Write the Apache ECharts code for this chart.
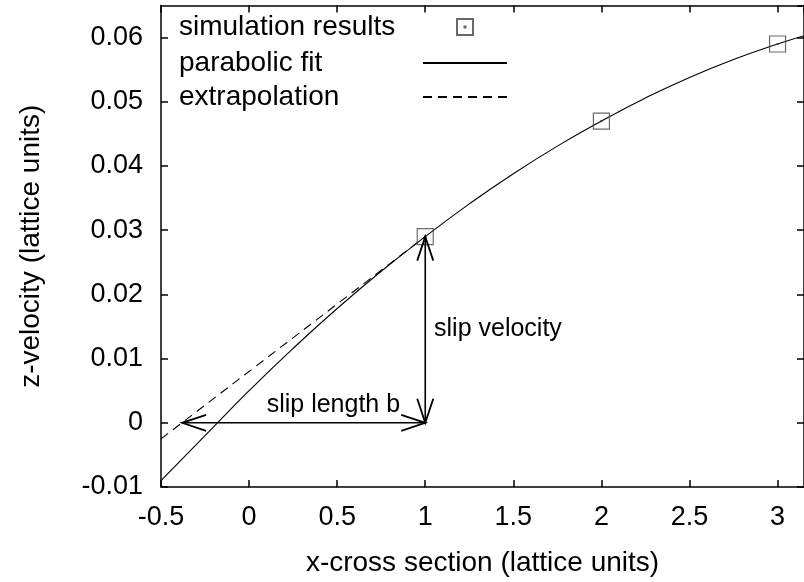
<!DOCTYPE html>
<html>
<head>
<meta charset="utf-8">
<script src="https://cdn.jsdelivr.net/npm/echarts@6/dist/echarts.min.js"></script>
<style>html,body{margin:0;padding:0;background:#fff;}#c{width:804px;height:582px;}</style>
</head>
<body>
<div id="c"></div>
<script>
// ---- data ----
const simX = [1, 2, 3];
const simY = [0.029, 0.047, 0.059];
const fitX = [-0.5, -0.25, 0, 0.25, 0.5, 0.75, 1, 1.25, 1.5, 1.75, 2, 2.25, 2.5, 2.75, 3, 3.15];
const fitY = [-0.0090, -0.0020, 0.0050, 0.0116, 0.0178, 0.0236, 0.0290, 0.0341, 0.0388, 0.0431, 0.0470, 0.0506, 0.0538, 0.0566, 0.0590, 0.0603];
const extX = [-0.5, 1];
const extY = [-0.0025, 0.029];
const arrowFrom = [[1, 0], [1, 0]];
const arrowTo = [[-0.38, 0], [1, 0.029]];
const labelText = ['slip length b', 'slip velocity'];
const labelPos = [[0.10, 0.0027], [1.05, 0.0146]];
const xTicks = [-0.5, 0, 0.5, 1, 1.5, 2, 2.5, 3];
const yTicks = [-0.01, 0, 0.01, 0.02, 0.03, 0.04, 0.05, 0.06];
const seriesNames = ['simulation results', 'parabolic fit', 'extrapolation'];

const FONT = '"Liberation Sans", Arial, sans-serif';
const chart = echarts.init(document.getElementById('c'), null, {renderer: 'canvas'});

function isTick(list, v) { return list.some(t => Math.abs(t - v) < 1e-9); }
function fmt(v) { return String(Math.round(v * 1000) / 1000); }

const axisLineStyle = {color: '#000', width: 1.5};
const tickCommon = {show: true, inside: true, length: 7, lineStyle: {color: '#000', width: 1.5}};

function legendCfg(name, top, itemHeight, hideSymbol) {
  const cfg = {
    data: [name], left: 179, top: top, orient: 'vertical', align: 'right',
    padding: 0, itemWidth: 84, itemHeight: itemHeight, selectedMode: false,
    formatter: '{t|{name}}',
    textStyle: {fontSize: 28, fontFamily: FONT, color: '#000',
      rich: {t: {width: 239, align: 'left', fontSize: 28, fontFamily: FONT, color: '#000'}}}
  };
  if (hideSymbol) cfg.itemStyle = {color: 'rgba(0,0,0,0)', borderWidth: 0, borderColor: 'rgba(0,0,0,0)'};
  return cfg;
}

function arrowHead(tip, from, children) {
  const dx = tip[0] - from[0], dy = tip[1] - from[1];
  const len = Math.sqrt(dx * dx + dy * dy) || 1;
  const ux = dx / len, uy = dy / len, nx = -uy, ny = ux;
  const L = 24, W = 8;
  children.push({type: 'polyline', shape: {points: [
    [tip[0] - ux * L + nx * W, tip[1] - uy * L + ny * W], tip,
    [tip[0] - ux * L - nx * W, tip[1] - uy * L - ny * W]]},
    style: {stroke: '#000', lineWidth: 1.8, fill: null}});
}

const option = {
  animation: false,
  backgroundColor: '#fff',
  grid: {left: 161, top: 5.5, width: 650, height: 481.5, containLabel: false},
  legend: [legendCfg(seriesNames[0], 13, 16, false), legendCfg(seriesNames[1], 49, 14, true), legendCfg(seriesNames[2], 83, 14, true)],
  xAxis: [{
    type: 'value', min: -0.5, max: 3.15, interval: 0.5, position: 'bottom',
    axisLine: {show: true, onZero: false, lineStyle: axisLineStyle},
    axisTick: tickCommon, splitLine: {show: false},
    axisLabel: {margin: 17, fontSize: 27, fontFamily: FONT, color: '#000', showMaxLabel: false,
      formatter: v => isTick(xTicks, v) ? fmt(v) : ''},
    name: 'x-cross section (lattice units)', nameLocation: 'middle', nameGap: 62,
    nameTextStyle: {fontSize: 28, fontFamily: FONT, color: '#000'}
  }, {
    type: 'value', min: -0.5, max: 3.15, interval: 0.5, position: 'top',
    axisLine: {show: true, onZero: false, lineStyle: axisLineStyle},
    axisTick: tickCommon, axisLabel: {show: false}, splitLine: {show: false}
  }],
  yAxis: [{
    type: 'value', min: -0.01, max: 0.065, interval: 0.01, position: 'left',
    axisLine: {show: true, onZero: false, lineStyle: axisLineStyle},
    axisTick: tickCommon, splitLine: {show: false},
    axisLabel: {margin: 18, fontSize: 27, fontFamily: FONT, color: '#000', showMaxLabel: false,
      formatter: v => isTick(yTicks, v) ? fmt(v) : ''},
    name: 'z-velocity (lattice units)', nameLocation: 'middle', nameGap: 116,
    nameTextStyle: {fontSize: 28, fontFamily: FONT, color: '#000'}
  }, {
    type: 'value', min: -0.01, max: 0.065, interval: 0.01, position: 'right',
    axisLine: {show: true, onZero: false, lineStyle: axisLineStyle},
    axisTick: tickCommon, axisLabel: {show: false}, splitLine: {show: false}
  }],
  series: [{
    name: seriesNames[0], type: 'scatter', z: 5,
    data: simX.map((x, i) => [x, simY[i]]),
    symbol: 'path://M0,0H16V16H0Z M7.5,7.5H8.5V8.5H7.5Z', symbolSize: 16,
    itemStyle: {color: 'none', borderColor: '#444', borderWidth: 1.2}
  }, {
    name: seriesNames[1], type: 'line', smooth: true, symbol: 'none', showSymbol: false,
    data: fitX.map((x, i) => [x, fitY[i]]),
    lineStyle: {color: '#000', width: 1.1}, itemStyle: {color: '#000'}
  }, {
    name: seriesNames[2], type: 'line', symbol: 'none', showSymbol: false,
    data: extX.map((x, i) => [x, extY[i]]),
    lineStyle: {color: '#000', width: 1.1, type: [9, 6]}, itemStyle: {color: '#000'}
  }, {
    name: 'arrows', type: 'custom', z: 6,
    data: arrowFrom.map((p, i) => [p[0], p[1], arrowTo[i][0], arrowTo[i][1]]),
    encode: {x: [0, 2], y: [1, 3]},
    renderItem: function (params, api) {
      const p1 = api.coord([api.value(0), api.value(1)]);
      const p2 = api.coord([api.value(2), api.value(3)]);
      const children = [{type: 'line', shape: {x1: p1[0], y1: p1[1], x2: p2[0], y2: p2[1]},
        style: {stroke: '#000', lineWidth: 1.6}}];
      arrowHead(p2, p1, children);
      arrowHead(p1, p2, children);
      return {type: 'group', children: children};
    }
  }, {
    name: 'labels', type: 'custom', z: 6,
    data: labelPos.map(p => [p[0], p[1]]),
    encode: {x: 0, y: 1},
    renderItem: function (params, api) {
      const p = api.coord([api.value(0), api.value(1)]);
      return {type: 'text', x: p[0], y: p[1],
        style: {text: labelText[params.dataIndex], fontSize: 25, fontFamily: FONT, fill: '#000',
          align: 'left', verticalAlign: 'middle'}};
    }
  }]
};
chart.setOption(option);
</script>
</body>
</html>
